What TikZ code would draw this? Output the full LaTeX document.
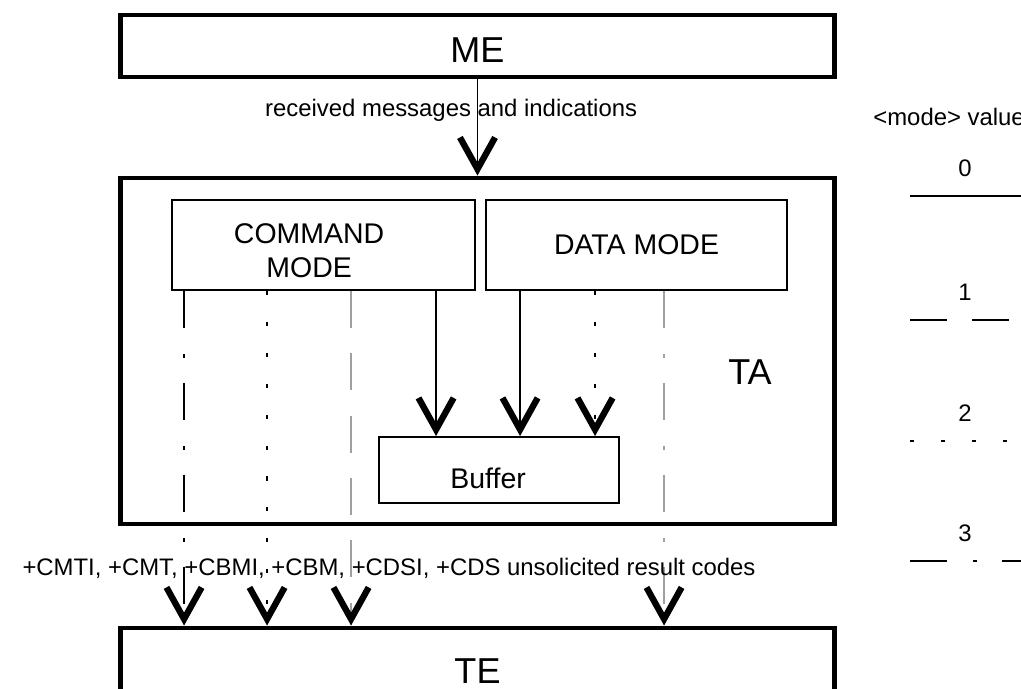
\documentclass[tikz,border=0pt]{standalone}
\usepackage{fontspec}
\setmainfont{Liberation Sans}
\usepackage{xcolor}
\usepackage{tikz}
\usetikzlibrary{calc,arrows.meta}
\definecolor{ink}{HTML}{000000}
\definecolor{faint}{HTML}{A0A0A0}
\tikzset{
  unit/.style={draw=ink, line width=2.8pt, font=\fontsize{20.5}{24}\selectfont},
  mbox/.style={draw=ink, line width=1.1pt, font=\fontsize{16.2}{19.3}\selectfont, align=center},
  lbl/.style={text=ink, font=\fontsize{13.6}{16}\selectfont, inner sep=0pt},
  big/.style={text=ink, font=\fontsize{20.5}{24}\selectfont},
  conn/.style={line width=1.1pt, -{Straight Barb[length=18pt,width=20pt,line width=3.6pt,color=ink]}},
  m0/.style={solid},
  m1/.style={dash pattern=on 21pt off 14.5pt},
  m2/.style={dash pattern=on 2.3pt off 15.3pt},
  m3/.style={dash pattern=on 21pt off 15pt on 2.3pt off 14pt},
  legline/.style={line width=1.5pt, draw=ink}
}

\begin{document}
\begin{tikzpicture}[x=0.02cm, y=-0.02cm]
\useasboundingbox (0,0) rectangle (1021,689);
\clip (0,0) rectangle (1021,689);

\node[unit, minimum width=14.3cm, minimum height=1.24cm,
  label={[big, yshift=-2.6pt]center:ME}] (me) at (477.5,46) {};
\node[unit, minimum width=14.3cm, minimum height=6.92cm] (ta) at (477.5,351) {};
\node[unit, minimum width=14.3cm, minimum height=1.84cm,
  label={[big, yshift=1.8pt]center:TE}] (te) at (477.5,674) {};
\node[big] (talbl) at (750,372) {TA};

\node[mbox, minimum width=6.06cm, minimum height=1.8cm,
  label={[mbox, draw=none, xshift=-8.2pt, yshift=-3.4pt]center:COMMAND\\MODE}] (cmd) at (323.5,245) {};
\node[mbox, minimum width=6.02cm, minimum height=1.8cm] (data) at (636.5,245) {DATA MODE};
\node[mbox, minimum width=4.8cm, minimum height=1.32cm,
  label={[mbox, draw=none, xshift=-6.2pt, yshift=-4.5pt]center:Buffer}] (buf) at (499,470) {};

\draw[conn] (me.south) -- node[lbl, pos=0.32, xshift=-15pt] (recv) {received messages and indications} (ta.north);

\coordinate (c1) at ($(cmd.south west)+(13,0)$);
\coordinate (c2) at ($(cmd.south west)+(96,0)$);
\coordinate (c3) at ($(cmd.south west)+(180,0)$);
\coordinate (c4) at ($(cmd.south west)+(265,0)$);
\coordinate (d1) at ($(data.south west)+(35,0)$);
\coordinate (d2) at ($(data.south west)+(110,0)$);
\coordinate (d3) at ($(data.south west)+(179,0)$);

\draw[conn,m3] (c1) -- (c1 |- te.north);
\draw[conn,m2] (c2) -- (c2 |- te.north);
\draw[conn,m1,draw=faint] (c3) -- (c3 |- te.north);
\draw[conn,m0] (c4) -- (c4 |- buf.north);
\draw[conn,m0] (d1) -- (d1 |- buf.north);
\draw[conn,m2] (d2) -- (d2 |- buf.north);
\draw[conn,m3,draw=faint] (d3) -- (d3 |- te.north);

\node[lbl] (codes) at (389,568) {+CMTI, +CMT, +CBMI, +CBM, +CDSI, +CDS unsolicited result codes};

\node[lbl, anchor=west] (modehdr) at (873,117) {<mode> value};
\foreach \m/\y/\s in {0/168/m0, 1/292/m1, 2/413/m2, 3/533/m3}{
  \node[lbl] (val\m) at (965,\y) {\m};
  \draw[legline,\s] (910,\y+28) -- (1040,\y+28);
}
\end{tikzpicture}
\end{document}
